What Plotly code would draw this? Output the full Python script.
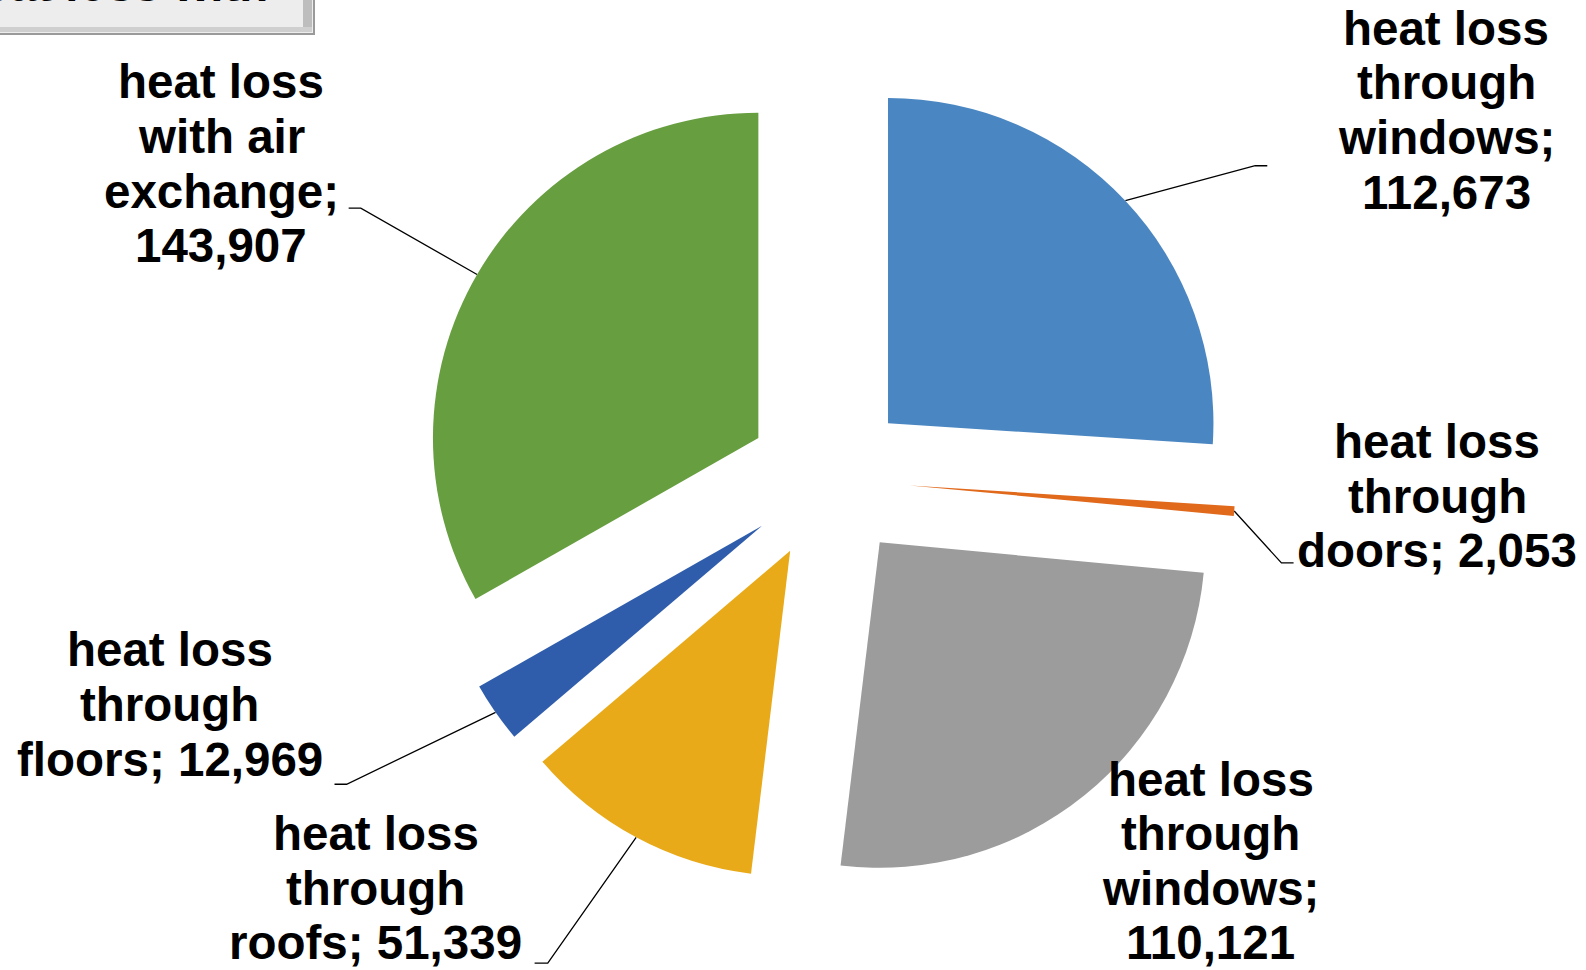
import math
import plotly.graph_objects as go

# ---------------- data ----------------
categories = [
    "heat loss\nthrough\nwindows",
    "heat loss\nthrough\ndoors",
    "heat loss\nthrough\nwindows",
    "heat loss\nthrough\nroofs",
    "heat loss\nthrough\nfloors",
    "heat loss\nwith air\nexchange",
]
values = [112673, 2053, 110121, 51339, 12969, 143907]
value_on_new_line = [True, False, True, False, False, True]
colors = ["#4A86C1", "#E0691C", "#9C9C9C", "#E9AA1A", "#2F5DAB", "#679E40"]

# ---------------- layout geometry (pixels) ----------------
W, H = 1586, 970
S = 1.0106                 # measurement scale correction
CX, CY = 820 * S, 474 * S  # pie centre (px from top-left)
R = 322 * S                # slice radius
PULL = 0.25
FONT = "Liberation Sans, Arial, sans-serif"
FS = 47.5
LINE_H = 54.6

# label block centres (x centre, y centre of first line)
label_pos = [(1431, 28), (1422, 437), (1198, 771), (372, 825), (168, 643), (219, 81)]
label_pos = [(x * S, y * S) for x, y in label_pos]
# leader lines: elbow point and end point (None => no line)
leader = [
    ((1242, 164), (1254, 164)),
    ((1268, 557), (1280, 557)),
    None,
    ((542, 953), (529, 953)),
    ((343, 776), (331, 776)),
    ((357, 206), (345, 206)),
]
leader = [None if l is None else tuple((a * S, b * S) for a, b in l) for l in leader]


def px(x):
    return x / W


def py(y):
    return (H - y) / H


rbox = R * (1 + PULL)
fig = go.Figure()
fig.add_trace(go.Pie(
    values=values,
    labels=[f"s{i}" for i in range(len(values))],
    sort=False,
    direction="clockwise",
    rotation=0,
    pull=[PULL] * len(values),
    marker=dict(colors=colors, line=dict(width=0)),
    textinfo="none",
    hoverinfo="skip",
    showlegend=False,
    domain=dict(x=[px(CX - rbox), px(CX + rbox)], y=[py(CY + rbox), py(CY - rbox)]),
))

# leader lines computed from slice geometry
total = sum(values)
cum = 0
for i, v in enumerate(values):
    mid = 2 * math.pi * (cum + v / 2) / total
    cum += v
    if leader[i] is None:
        continue
    dx, dy = math.sin(mid), -math.cos(mid)
    sx = CX + (1 + PULL) * R * dx
    sy = CY + (1 + PULL) * R * dy
    (ex, ey), (fx, fy) = leader[i]
    fig.add_trace(go.Scatter(
        x=[sx, ex, fx], y=[sy, ey, fy], mode="lines",
        line=dict(color="black", width=1.3), hoverinfo="skip", showlegend=False,
    ))

# labels, one annotation per line
annotations = []
for i, cat in enumerate(categories):
    lines = cat.split("\n")
    lines[-1] += ";"
    vtxt = f"{values[i]:,}"
    if value_on_new_line[i]:
        lines.append(vtxt)
    else:
        lines[-1] += " " + vtxt
    x0, y0 = label_pos[i]
    for k, t in enumerate(lines):
        annotations.append(dict(
            x=px(x0), y=py(y0 + k * LINE_H), xref="paper", yref="paper",
            text=t, showarrow=False, xanchor="center", yanchor="middle",
            font=dict(family=FONT, size=FS, color="black", weight="bold"),
        ))

# partially visible title box at top-left
annotations.append(dict(
    x=px(270), y=py(-16), xref="paper", yref="paper", text="Heat loss with",
    showarrow=False, xanchor="right", yanchor="middle",
    font=dict(family=FONT, size=FS, color="black", weight="bold"),
))
shapes = [
    dict(type="rect", xref="paper", yref="paper", x0=px(-5), x1=px(314), y0=py(34), y1=py(-10),
         fillcolor="#EDEDED", line=dict(color="#9A9A9A", width=2), layer="below"),
    dict(type="rect", xref="paper", yref="paper", x0=px(303), x1=px(312), y0=py(32), y1=py(-10),
         fillcolor="#BDBDBD", line=dict(width=0), layer="below"),
    dict(type="rect", xref="paper", yref="paper", x0=px(-5), x1=px(312), y0=py(32), y1=py(27),
         fillcolor="#CFCFCF", line=dict(width=0), layer="below"),
]

fig.update_layout(
    width=W, height=H,
    margin=dict(l=0, r=0, t=0, b=0),
    paper_bgcolor="white", plot_bgcolor="rgba(0,0,0,0)",
    xaxis=dict(range=[0, W], visible=False, fixedrange=True),
    yaxis=dict(range=[H, 0], visible=False, fixedrange=True),
    annotations=annotations,
    shapes=shapes,
)

fig.write_html(
    "out.html",
    config={"displayModeBar": False},
    post_script="document.body.style.margin='0';document.body.style.padding='0';"
                "document.documentElement.style.overflow='hidden';",
)
